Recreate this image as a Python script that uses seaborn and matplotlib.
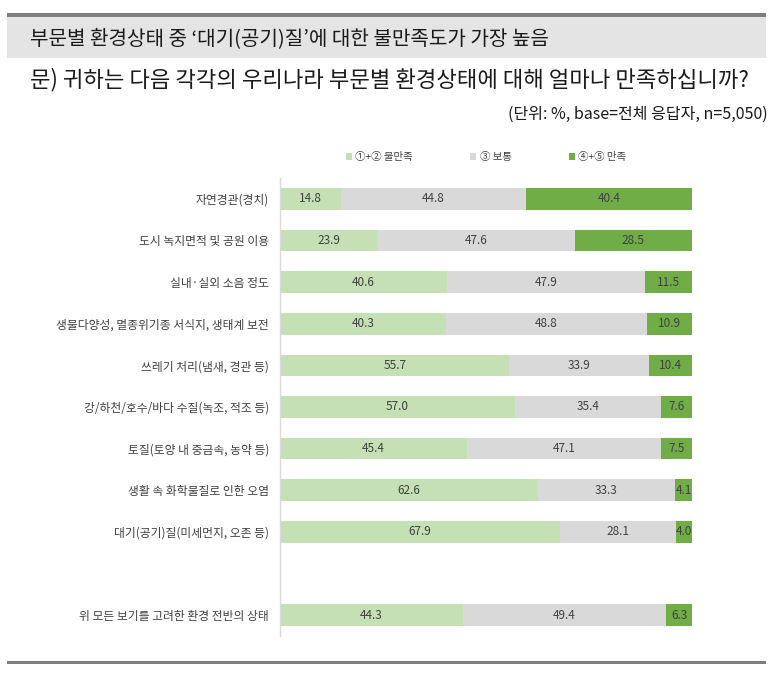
import pandas as pd
import matplotlib.pyplot as plt
import seaborn as sns

sns.set_theme(style="white")
plt.rcParams['font.family'] = ['Noto Sans CJK KR', 'DejaVu Sans']

# Data
items = ["자연경관(경치)", "도시 녹지면적 및 공원 이용", "실내·실외 소음 정도",
         "생물다양성, 멸종위기종 서식지, 생태계 보전", "쓰레기 처리(냄새, 경관 등)",
         "강/하천/호수/바다 수질(녹조, 적조 등)", "토질(토양 내 중금속, 농약 등)",
         "생활 속 화학물질로 인한 오염", "대기(공기)질(미세먼지, 오존 등)",
         "위 모든 보기를 고려한 환경 전반의 상태"]
unsat = [14.8, 23.9, 40.6, 40.3, 55.7, 57.0, 45.4, 62.6, 67.9, 44.3]
neutral = [44.8, 47.6, 47.9, 48.8, 33.9, 35.4, 47.1, 33.3, 28.1, 49.4]
sat = [40.4, 28.5, 11.5, 10.9, 10.4, 7.6, 7.5, 4.1, 4.0, 6.3]
series = ["①+② 불만족", "③ 보통", "④+⑤ 만족"]
colors = ["#c5e0b4", "#d9d9d9", "#70ad47"]

order = items[:9] + [" "] + items[9:]

df = pd.DataFrame({"item": items, "unsat": unsat, "neutral": neutral, "sat": sat})
df["c1"] = df["unsat"]
df["c2"] = df["unsat"] + df["neutral"]
df["c3"] = df["c2"] + df["sat"]

fig = plt.figure(figsize=(7.78, 6.74), dpi=100)

# header decorations
fig.add_artist(plt.Rectangle((7 / 778, 1 - 58 / 674), 759 / 778, 42 / 674,
                             transform=fig.transFigure, color="#e4e4e4", lw=0))
fig.add_artist(plt.Rectangle((7 / 778, 1 - 16.5 / 674), 759 / 778, 3.5 / 674,
                             transform=fig.transFigure, color="#7f7f7f", lw=0))
fig.add_artist(plt.Rectangle((7 / 778, 1 - 664 / 674), 759 / 778, 3.5 / 674,
                             transform=fig.transFigure, color="#7f7f7f", lw=0))
fig.text(30 / 778, 1 - 39 / 674, "부문별 환경상태 중 ‘대기(공기)질’에 대한 불만족도가 가장 높음",
         fontsize=14.5, va="center", ha="left", color="#1a1a1a")
fig.text(30 / 778, 1 - 80 / 674, "문) 귀하는 다음 각각의 우리나라 부문별 환경상태에 대해 얼마나 만족하십니까?",
         fontsize=16, va="center", ha="left", color="#1a1a1a")
fig.text(768 / 778, 1 - 114 / 674, "(단위: %, base=전체 응답자, n=5,050)",
         fontsize=11.5, va="center", ha="right", color="#1a1a1a")

ax = fig.add_axes([280 / 778, 1 - 636 / 674, 412 / 778, 458 / 674])

for col, c, name in zip(["c3", "c2", "c1"], colors[::-1], series[::-1]):
    sns.barplot(data=df, x=col, y="item", order=order, color=c, width=0.52,
                orient="h", ax=ax, label=name, saturation=1, edgecolor="none")

# segment labels
cum = list(zip(unsat, neutral, sat))
for i, name in enumerate(items):
    y = order.index(name)
    left = 0
    for v in cum[i]:
        ax.text(left + v / 2, y, f"{v:.1f}", ha="center", va="center",
                fontsize=8.5, color="#404040")
        left += v

ax.set_xlim(0, 100)
ax.set_ylim(len(order) - 0.5, -0.5)
ax.set_xlabel("")
ax.set_ylabel("")
ax.set_xticks([])
ax.tick_params(axis="y", length=0, pad=8, labelsize=8.5, labelcolor="#404040")
for s in ["top", "right", "bottom"]:
    ax.spines[s].set_visible(False)
ax.spines["left"].set_color("#d9d9d9")
ax.spines["left"].set_linewidth(1)

handles, labels = ax.get_legend_handles_labels()
ax.legend(handles[::-1], labels[::-1], loc="center", bbox_to_anchor=(0.5, 1.046),
          ncol=3, frameon=False, fontsize=7.5, handlelength=0.6, handleheight=0.6,
          handletextpad=0.3, columnspacing=5.5, labelcolor="#404040")

plt.savefig("out.png", dpi=100)
